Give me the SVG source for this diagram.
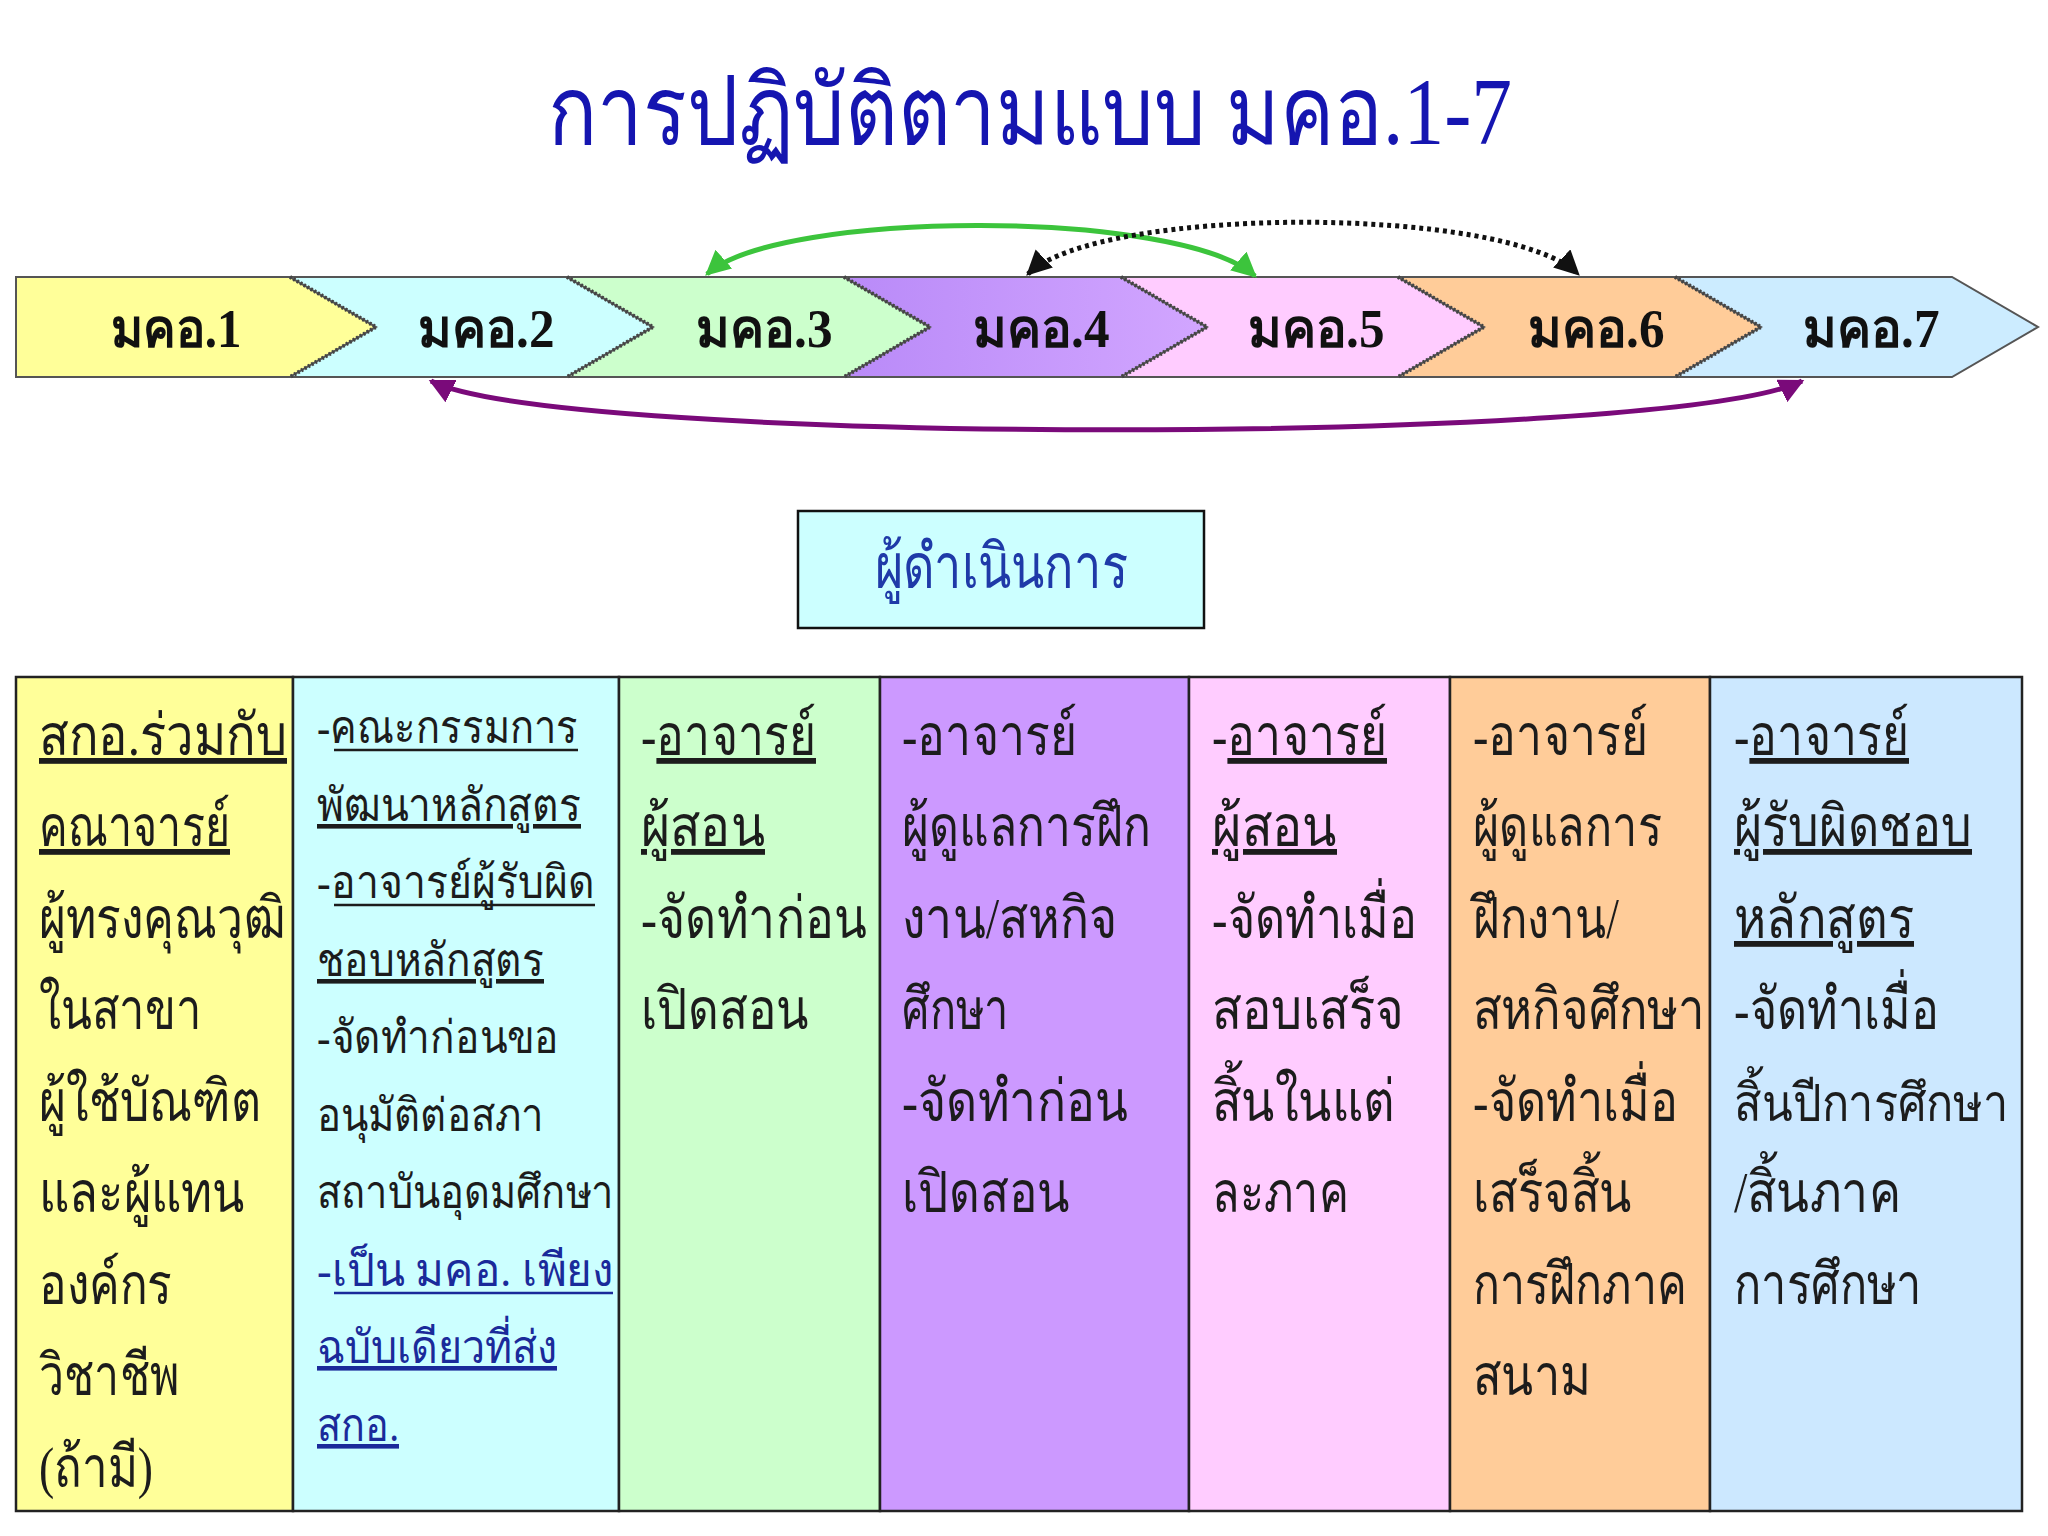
<svg xmlns="http://www.w3.org/2000/svg" width="2048" height="1536" viewBox="0 0 2048 1536">
<defs>
<style>
.th{font-family:'Liberation Serif','DejaVu Serif',serif;fill:#1c1c1c}
.c1{font-size:58px}
.c2{font-size:46px}
.ul{text-decoration:underline}
.uline{stroke:#1c1c1c;stroke-width:2.5}
.lab{font-family:'Liberation Serif','DejaVu Serif',serif;font-size:54px;font-weight:bold;fill:#111;text-anchor:middle}
.chev{stroke:#555;stroke-width:2}
.notch{fill:none;stroke:#444;stroke-width:4;stroke-dasharray:2 2}
.col{stroke:#222;stroke-width:2.5}
.blue{fill:#1a2a9a}
</style>
<linearGradient id="g4" x1="0" x2="1" y1="0" y2="0"><stop offset="0" stop-color="#B98AF8"/><stop offset="1" stop-color="#D2A6FF"/></linearGradient>
<marker id="mG" viewBox="0 0 10 10" refX="9" refY="5" markerWidth="5" markerHeight="5" orient="auto-start-reverse" markerUnits="strokeWidth"><path d="M0,0 L10,5 L0,10 z" fill="#3CC43C"/></marker>
<marker id="mK" viewBox="0 0 10 10" refX="9" refY="5" markerWidth="5" markerHeight="5" orient="auto-start-reverse" markerUnits="strokeWidth"><path d="M0,0 L10,5 L0,10 z" fill="#111"/></marker>
<marker id="mP" viewBox="0 0 10 10" refX="9" refY="5" markerWidth="5" markerHeight="5" orient="auto-start-reverse" markerUnits="strokeWidth"><path d="M0,0 L10,5 L0,10 z" fill="#7A0A7A"/></marker>
</defs>
<rect width="2048" height="1536" fill="#fff"/>
<text x="1030" y="144" font-family="'Liberation Serif','DejaVu Serif',serif" font-size="96" fill="#1515B0" text-anchor="middle" textLength="964" lengthAdjust="spacingAndGlyphs">การปฏิบัติตามแบบ มคอ.1-7</text>

<g id="chev1"><polygon class="chev" fill="#FFFF99" points="16,277 290,277 376,327 290,377 16,377"/><text class="lab" x="176" y="347" textLength="131" lengthAdjust="spacingAndGlyphs">มคอ.1</text></g>
<g id="chev2"><polygon class="chev" fill="#CCFFFF" points="290,277 567,277 653,327 567,377 290,377 376,327"/><polyline class="notch" points="290,277 376,327 290,377"/><text class="lab" x="486" y="347" textLength="137" lengthAdjust="spacingAndGlyphs">มคอ.2</text></g>
<g id="chev3"><polygon class="chev" fill="#CCFFCC" points="567,277 844,277 930,327 844,377 567,377 653,327"/><polyline class="notch" points="567,277 653,327 567,377"/><text class="lab" x="764" y="347" textLength="137" lengthAdjust="spacingAndGlyphs">มคอ.3</text></g>
<g id="chev4"><polygon class="chev" fill="url(#g4)" points="844,277 1121,277 1207,327 1121,377 844,377 930,327"/><polyline class="notch" points="844,277 930,327 844,377"/><text class="lab" x="1041" y="347" textLength="137" lengthAdjust="spacingAndGlyphs">มคอ.4</text></g>
<g id="chev5"><polygon class="chev" fill="#FFCCFF" points="1121,277 1398,277 1484,327 1398,377 1121,377 1207,327"/><polyline class="notch" points="1121,277 1207,327 1121,377"/><text class="lab" x="1316" y="347" textLength="137" lengthAdjust="spacingAndGlyphs">มคอ.5</text></g>
<g id="chev6"><polygon class="chev" fill="#FFCC99" points="1398,277 1675,277 1761,327 1675,377 1398,377 1484,327"/><polyline class="notch" points="1398,277 1484,327 1398,377"/><text class="lab" x="1596" y="347" textLength="137" lengthAdjust="spacingAndGlyphs">มคอ.6</text></g>
<g id="chev7"><polygon class="chev" fill="#CCECFF" points="1675,277 1952,277 2038,327 1952,377 1675,377 1761,327"/><polyline class="notch" points="1675,277 1761,327 1675,377"/><text class="lab" x="1871" y="347" textLength="137" lengthAdjust="spacingAndGlyphs">มคอ.7</text></g>

<g id="connectors" fill="none">
<path d="M707,274 C780,209 1180,209 1255,276" stroke="#3CC43C" stroke-width="5" marker-start="url(#mG)" marker-end="url(#mG)"/>
<path d="M1028,274 C1100,205 1506,205 1578,274" stroke="#111" stroke-width="5" stroke-dasharray="4 4" marker-start="url(#mK)" marker-end="url(#mK)"/>
<path d="M431,381 C560,446 1670,446 1802,381" stroke="#7A0A7A" stroke-width="5" marker-start="url(#mP)" marker-end="url(#mP)"/>
</g>

<g id="operator"><rect x="798" y="511" width="406" height="117" fill="#CCFFFF" stroke="#111" stroke-width="2.5"/><text x="1001" y="588" font-family="'Liberation Serif','DejaVu Serif',serif" font-size="62" fill="#1f3aa8" text-anchor="middle" textLength="253" lengthAdjust="spacingAndGlyphs">ผู้ดำเนินการ</text></g>

<g id="table">
<rect class="col" x="16" y="677" width="277" height="834" fill="#FFFF99"/>
<rect class="col" x="293" y="677" width="326" height="834" fill="#CCFFFF"/>
<rect class="col" x="619" y="677" width="261" height="834" fill="#CCFFCC"/>
<rect class="col" x="880" y="677" width="309" height="834" fill="#CC99FF"/>
<rect class="col" x="1189" y="677" width="261" height="834" fill="#FFCCFF"/>
<rect class="col" x="1450" y="677" width="260" height="834" fill="#FFCC99"/>
<rect class="col" x="1710" y="677" width="312" height="834" fill="#CCE8FF"/>
</g>

<g id="col1" class="th c1">
<text x="39" y="755" textLength="248" lengthAdjust="spacingAndGlyphs" class="ul">สกอ.ร่วมกับ</text>
<text x="39" y="846" textLength="191" lengthAdjust="spacingAndGlyphs" class="ul">คณาจารย์</text>
<text x="39" y="938" textLength="246" lengthAdjust="spacingAndGlyphs">ผู้ทรงคุณวุฒิ</text>
<text x="39" y="1029" textLength="163" lengthAdjust="spacingAndGlyphs">ในสาขา</text>
<text x="39" y="1121" textLength="222" lengthAdjust="spacingAndGlyphs">ผู้ใช้บัณฑิต</text>
<text x="39" y="1212" textLength="206" lengthAdjust="spacingAndGlyphs">และผู้แทน</text>
<text x="39" y="1304" textLength="133" lengthAdjust="spacingAndGlyphs">องค์กร</text>
<text x="39" y="1395" textLength="140" lengthAdjust="spacingAndGlyphs">วิชาชีพ</text>
<text x="39" y="1487" textLength="114" lengthAdjust="spacingAndGlyphs">(ถ้ามี)</text>
</g>

<g id="col2" class="th c2">
<text x="317" y="743" textLength="261" lengthAdjust="spacingAndGlyphs">-คณะกรรมการ</text>
<line class="uline" x1="334" y1="750" x2="578" y2="750"/>
<text x="317" y="821" textLength="264" lengthAdjust="spacingAndGlyphs" class="ul">พัฒนาหลักสูตร</text>
<text x="317" y="898" textLength="278" lengthAdjust="spacingAndGlyphs">-อาจารย์ผู้รับผิด</text>
<line class="uline" x1="334" y1="905" x2="595" y2="905"/>
<text x="317" y="976" textLength="227" lengthAdjust="spacingAndGlyphs" class="ul">ชอบหลักสูตร</text>
<text x="317" y="1053" textLength="242" lengthAdjust="spacingAndGlyphs">-จัดทำก่อนขอ</text>
<text x="317" y="1131" textLength="227" lengthAdjust="spacingAndGlyphs">อนุมัติต่อสภา</text>
<text x="317" y="1208" textLength="297" lengthAdjust="spacingAndGlyphs">สถาบันอุดมศึกษา</text>
<text x="317" y="1286" textLength="296" lengthAdjust="spacingAndGlyphs" class="blue">-เป็น มคอ. เพียง</text>
<line class="uline" x1="334" y1="1293" x2="613" y2="1293" style="stroke:#1a2a9a"/>
<text x="317" y="1363" textLength="240" lengthAdjust="spacingAndGlyphs" class="blue ul">ฉบับเดียวที่ส่ง</text>
<text x="317" y="1441" textLength="82" lengthAdjust="spacingAndGlyphs" class="blue ul">สกอ.</text>
</g>

<g id="col3" class="th c1">
<text x="641" y="755" textLength="175" lengthAdjust="spacingAndGlyphs">-<tspan class="ul">อาจารย์</tspan></text>
<text x="641" y="846" textLength="124" lengthAdjust="spacingAndGlyphs" class="ul">ผู้สอน</text>
<text x="641" y="938" textLength="226" lengthAdjust="spacingAndGlyphs">-จัดทำก่อน</text>
<text x="641" y="1029" textLength="168" lengthAdjust="spacingAndGlyphs">เปิดสอน</text>
</g>

<g id="col4" class="th c1">
<text x="902" y="755" textLength="175" lengthAdjust="spacingAndGlyphs">-อาจารย์</text>
<text x="902" y="846" textLength="249" lengthAdjust="spacingAndGlyphs">ผู้ดูแลการฝึก</text>
<text x="902" y="938" textLength="215" lengthAdjust="spacingAndGlyphs">งาน/สหกิจ</text>
<text x="902" y="1029" textLength="107" lengthAdjust="spacingAndGlyphs">ศึกษา</text>
<text x="902" y="1121" textLength="226" lengthAdjust="spacingAndGlyphs">-จัดทำก่อน</text>
<text x="902" y="1212" textLength="168" lengthAdjust="spacingAndGlyphs">เปิดสอน</text>
</g>

<g id="col5" class="th c1">
<text x="1212" y="755" textLength="175" lengthAdjust="spacingAndGlyphs">-<tspan class="ul">อาจารย์</tspan></text>
<text x="1212" y="846" textLength="125" lengthAdjust="spacingAndGlyphs" class="ul">ผู้สอน</text>
<text x="1212" y="938" textLength="205" lengthAdjust="spacingAndGlyphs">-จัดทำเมื่อ</text>
<text x="1212" y="1029" textLength="192" lengthAdjust="spacingAndGlyphs">สอบเสร็จ</text>
<text x="1212" y="1121" textLength="183" lengthAdjust="spacingAndGlyphs">สิ้นในแต่</text>
<text x="1212" y="1212" textLength="137" lengthAdjust="spacingAndGlyphs">ละภาค</text>
</g>

<g id="col6" class="th c1">
<text x="1473" y="755" textLength="175" lengthAdjust="spacingAndGlyphs">-อาจารย์</text>
<text x="1473" y="846" textLength="189" lengthAdjust="spacingAndGlyphs">ผู้ดูแลการ</text>
<text x="1473" y="938" textLength="146" lengthAdjust="spacingAndGlyphs">ฝึกงาน/</text>
<text x="1473" y="1029" textLength="232" lengthAdjust="spacingAndGlyphs">สหกิจศึกษา</text>
<text x="1473" y="1121" textLength="205" lengthAdjust="spacingAndGlyphs">-จัดทำเมื่อ</text>
<text x="1473" y="1212" textLength="159" lengthAdjust="spacingAndGlyphs">เสร็จสิ้น</text>
<text x="1473" y="1304" textLength="214" lengthAdjust="spacingAndGlyphs">การฝึกภาค</text>
<text x="1473" y="1395" textLength="118" lengthAdjust="spacingAndGlyphs">สนาม</text>
</g>

<g id="col7" class="th c1">
<text x="1734" y="755" textLength="175" lengthAdjust="spacingAndGlyphs">-<tspan class="ul">อาจารย์</tspan></text>
<text x="1734" y="846" textLength="238" lengthAdjust="spacingAndGlyphs" class="ul">ผู้รับผิดชอบ</text>
<text x="1734" y="938" textLength="180" lengthAdjust="spacingAndGlyphs" class="ul">หลักสูตร</text>
<text x="1734" y="1029" textLength="205" lengthAdjust="spacingAndGlyphs">-จัดทำเมื่อ</text>
<text x="1734" y="1121" font-size="52" textLength="274" lengthAdjust="spacingAndGlyphs">สิ้นปีการศึกษา</text>
<text x="1734" y="1212" textLength="167" lengthAdjust="spacingAndGlyphs">/สิ้นภาค</text>
<text x="1734" y="1304" textLength="188" lengthAdjust="spacingAndGlyphs">การศึกษา</text>
</g>
</svg>
